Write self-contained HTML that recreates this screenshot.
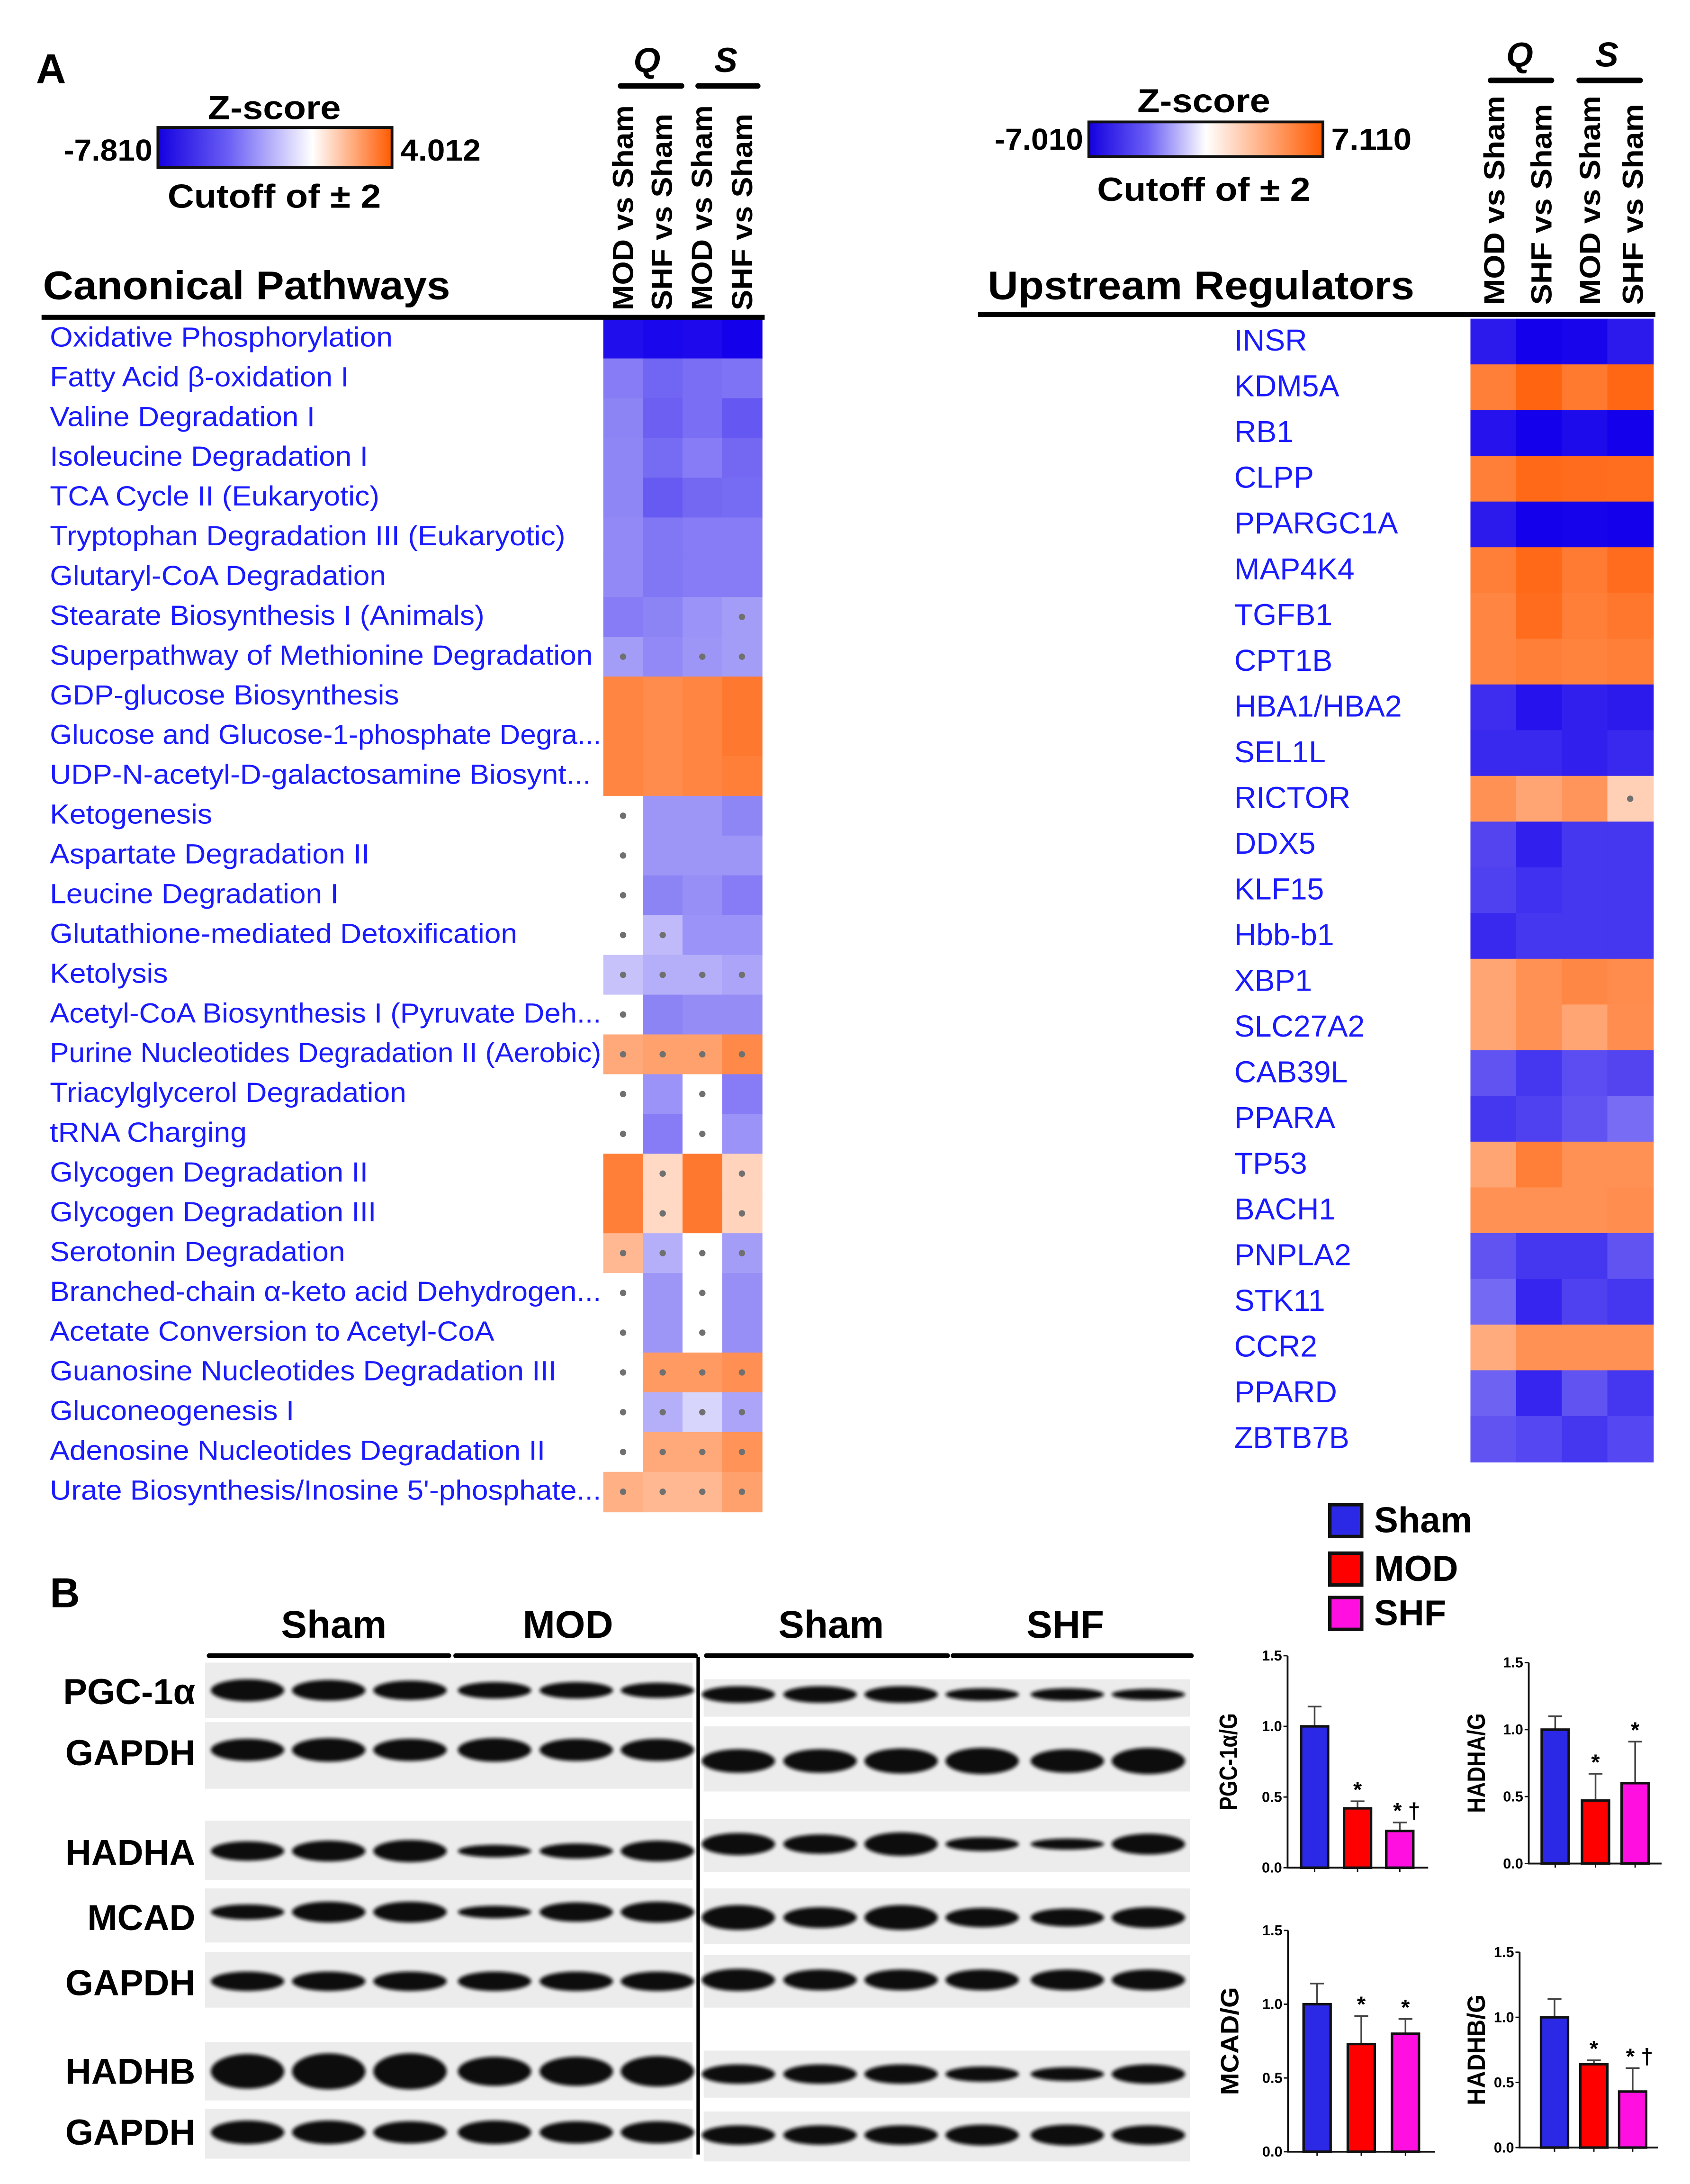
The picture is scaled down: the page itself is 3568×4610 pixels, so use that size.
<!DOCTYPE html>
<html><head><meta charset="utf-8"><style>
html,body{margin:0;padding:0;background:#fff;}
svg{display:block;font-family:"Liberation Sans",Arial,sans-serif;}
</style></head><body>
<svg id="fig" xmlns="http://www.w3.org/2000/svg" width="3568" height="4610" viewBox="0 0 1220 1576.3" preserveAspectRatio="none">
<defs>
<linearGradient id="gL" x1="0" x2="1"><stop offset="0" stop-color="#1400e0"/><stop offset="0.3" stop-color="#6a5ef5"/><stop offset="0.66" stop-color="#ffffff"/><stop offset="1" stop-color="#ff5a00"/></linearGradient>
<linearGradient id="gR" x1="0" x2="1"><stop offset="0" stop-color="#1400e0"/><stop offset="0.25" stop-color="#6a5ef5"/><stop offset="0.5" stop-color="#ffffff"/><stop offset="1" stop-color="#ff5a00"/></linearGradient>
<filter id="blur" x="-20%" y="-50%" width="140%" height="200%"><feGaussianBlur stdDeviation="1.3"/></filter>
</defs>
<g id="root"></g>
</svg>
<script>
const cpLabels=["Oxidative Phosphorylation","Fatty Acid β-oxidation I","Valine Degradation I","Isoleucine Degradation I","TCA Cycle II (Eukaryotic)","Tryptophan Degradation III (Eukaryotic)","Glutaryl-CoA Degradation","Stearate Biosynthesis I (Animals)","Superpathway of Methionine Degradation","GDP-glucose Biosynthesis","Glucose and Glucose-1-phosphate Degra...","UDP-N-acetyl-D-galactosamine Biosynt...","Ketogenesis","Aspartate Degradation II","Leucine Degradation I","Glutathione-mediated Detoxification","Ketolysis","Acetyl-CoA Biosynthesis I (Pyruvate Deh...","Purine Nucleotides Degradation II (Aerobic)","Triacylglycerol Degradation","tRNA Charging","Glycogen Degradation II","Glycogen Degradation III","Serotonin Degradation","Branched-chain α-keto acid Dehydrogen...","Acetate Conversion to Acetyl-CoA","Guanosine Nucleotides Degradation III","Gluconeogenesis I","Adenosine Nucleotides Degradation II","Urate Biosynthesis/Inosine 5'-phosphate..."];
const cpValues=[[-7.2,-7.5,-7.4,-7.8],[-3,-3.8,-3.5,-3.3],[-2.8,-4,-3.5,-4.3],[-2.7,-3.6,-3,-3.7],[-2.7,-4.2,-3.7,-3.6],[-2.6,-3.2,-3,-3],[-2.6,-3.2,-3,-3],[-3,-2.8,-2.3,-2],[-2,-2.6,-2.2,-2],[2.6,2.4,2.6,3],[2.6,2.4,2.6,3],[2.6,2.4,2.6,2.8],[0,-2.2,-2.2,-2.7],[0,-2.2,-2.2,-2.2],[0,-2.8,-2.4,-3],[0,-1.2,-2.3,-2.3],[-1,-1.5,-1.5,-1.8],[0,-2.8,-2.5,-2.5],[1.6,1.8,1.8,2.5],[0,-2.3,0,-3],[0,-3,0,-2.3],[2.8,0.5,3,0.6],[2.8,0.5,3,0.6],[1.2,-1.5,0,-2],[0,-2.2,0,-2.4],[0,-2.2,0,-2.4],[0,2,2,2.3],[0,-1.5,-0.6,-1.8],[0,1.6,1.6,2.2],[1.4,1.2,1.2,1.8]];
const cpDots=[[0,0,0,0],[0,0,0,0],[0,0,0,0],[0,0,0,0],[0,0,0,0],[0,0,0,0],[0,0,0,0],[0,0,0,1],[1,0,1,1],[0,0,0,0],[0,0,0,0],[0,0,0,0],[1,0,0,0],[1,0,0,0],[1,0,0,0],[1,1,0,0],[1,1,1,1],[1,0,0,0],[1,1,1,1],[1,0,1,0],[1,0,1,0],[0,1,0,1],[0,1,0,1],[1,1,1,1],[1,0,1,0],[1,0,1,0],[1,1,1,1],[1,1,1,1],[1,1,1,1],[1,1,1,1]];
const urLabels=["INSR","KDM5A","RB1","CLPP","PPARGC1A","MAP4K4","TGFB1","CPT1B","HBA1/HBA2","SEL1L","RICTOR","DDX5","KLF15","Hbb-b1","XBP1","SLC27A2","CAB39L","PPARA","TP53","BACH1","PNPLA2","STK11","CCR2","PPARD","ZBTB7B"];
const urValues=[[-6,-7,-6.8,-6],[5,6.5,5.3,6.3],[-6.3,-7,-6.6,-7],[5,6.2,6,5.9],[-6,-7,-6.9,-7],[5,6.2,5.2,6],[4.6,6,5,5.4],[4.6,5,4.8,5],[-5.3,-6.3,-5.8,-6],[-5.5,-5.5,-5.8,-5.5],[4,3,3.8,1.2],[-4.5,-5.8,-5,-5],[-4.6,-5.2,-5,-5],[-5.5,-5,-5,-5],[3,4,4.5,4.3],[3,4,3,4.2],[-4,-5,-4.2,-4.5],[-5,-4.6,-4,-3.2],[3,5,4,4],[4,4,4,4.2],[-4,-5,-5,-4],[-3.3,-5.6,-4.6,-5],[2.7,4,4,4],[-3.5,-5.6,-4,-5],[-4,-4.4,-5,-4.4]];
const urDots=[[0,0,0,0],[0,0,0,0],[0,0,0,0],[0,0,0,0],[0,0,0,0],[0,0,0,0],[0,0,0,0],[0,0,0,0],[0,0,0,0],[0,0,0,0],[0,0,0,1]];
const colHeads=["MOD vs Sham","SHF vs Sham","MOD vs Sham","SHF vs Sham"];
const barGroups=["Sham","MOD","SHF"];
const pgcMeans=[1.0,0.42,0.26], pgcErr=[0.14,0.05,0.06], pgcSig=["","*","* †"];
const hadhaMeans=[1.0,0.47,0.6], hadhaErr=[0.1,0.2,0.31], hadhaSig=["","*","*"];
const mcadMeans=[1.0,0.73,0.8], mcadErr=[0.14,0.19,0.1], mcadSig=["","*","*"];
const hadhbMeans=[1.0,0.64,0.43], hadhbErr=[0.14,0.03,0.18], hadhbSig=["","*","* †"];
const yTicks=[0,0.5,1.0,1.5];
const barColors=["#2b28e6","#ff0000","#ff10e0"];

const NS="http://www.w3.org/2000/svg";
const root=document.getElementById('root');
function el(tag,attrs,parent,txt){const e=document.createElementNS(NS,tag);for(const k in attrs)e.setAttribute(k,attrs[k]);if(txt!==undefined)e.textContent=txt;(parent||root).appendChild(e);return e;}
function zcol(z,mn,mx){
  if(z<0){let t=Math.pow(Math.min(1,z/mn),0.7);return `rgb(${Math.round(255-235*t)},${Math.round(255-255*t)},${Math.round(255-20*t)})`;}
  let t=Math.pow(Math.min(1,z/mx),0.7);return `rgb(255,${Math.round(255-165*t)},${Math.round(255-255*t)})`;
}
function txt(x,y,s,size,opts,name){
  const t=el('text',Object.assign({x:x,y:y,'font-size':size},opts||{}),root,s);
  
  
  return t;
}
txt(26,60,"A",30,{'font-weight':'bold'},'panel-a-label');
function colorbar(x0,x1,y0,y1,grad,minT,maxT,cx,zy,cy,name){
  const r=el('rect',{x:x0,y:y0,width:x1-x0,height:y1-y0,fill:`url(#${grad})`,stroke:'#111','stroke-width':2});
  
  
  txt(x0-4,y1-5,minT,22,{'font-weight':'bold','text-anchor':'end',textLength:64,lengthAdjust:'spacingAndGlyphs'},name+'-min');
  txt(x1+6,y1-5,maxT,22,{'font-weight':'bold',textLength:58,lengthAdjust:'spacingAndGlyphs'},name+'-max');
  txt(cx,zy,"Z-score",24,{'font-weight':'bold','text-anchor':'middle',textLength:96,lengthAdjust:'spacingAndGlyphs'},name+'-title');
  txt(cx,cy,"Cutoff of ± 2",24,{'font-weight':'bold','text-anchor':'middle',textLength:154,lengthAdjust:'spacingAndGlyphs'},name+'-cutoff');
}
colorbar(114,283,92,121,'gL',"-7.810","4.012",198,86,150,'cp-colorbar');
colorbar(786,955,88,113,'gR',"-7.010","7.110",869,81,145,'ur-colorbar');

function heatmap(labels,vals,dots,x0,y0,cw,rh,mn,mx,labelX,labelSize,prefix,stretch,labelMax){
  vals.forEach((row,i)=>{
    row.forEach((v,j)=>{
      const r=el('rect',{x:x0+j*cw,y:y0+i*rh,width:cw+0.5,height:rh+0.5,fill:zcol(v,mn,mx)});
      
      
      if(dots[i]&&dots[i][j]){
        const d=el('circle',{cx:x0+j*cw+cw/2,cy:y0+i*rh+rh/2,r:2.3,fill:'#707070'});
        
        
      }
    });
    const t=txt(labelX,y0+i*rh+rh*0.7,labels[i],labelSize,{fill:'#1a1aff'},prefix+'-row-label');
    let w=t.getComputedTextLength()*stretch;
    if(labelMax && w>labelMax) w=labelMax;
    t.setAttribute('textLength',w.toFixed(1));
    t.setAttribute('lengthAdjust','spacingAndGlyphs');
  });
}
heatmap(cpLabels,cpValues,cpDots,435.5,230,28.6,28.7,-7.81,4.012,36,20,'cp',1.065,398);
heatmap(urLabels,urValues,urDots,1061.5,230,32.95,33,-7.01,7.11,891,22,'ur',1.0,0);

txt(31,216,"Canonical Pathways",29,{'font-weight':'bold',textLength:294,lengthAdjust:'spacingAndGlyphs'},'canonical-pathways-title');
txt(713,216,"Upstream Regulators",29,{'font-weight':'bold',textLength:308,lengthAdjust:'spacingAndGlyphs'},'upstream-regulators-title');
let l1=el('line',{x1:30,x2:552,y1:229,y2:229,stroke:'#000','stroke-width':3.5});


let l2=el('line',{x1:706,x2:1195,y1:227,y2:227,stroke:'#000','stroke-width':3.5});



function colHeaders(xs,bottom,len,prefix){
  colHeads.forEach((h,j)=>{
    const t=el('text',{x:0,y:0,'font-size':21,'font-weight':'bold',transform:`translate(${xs[j]},${bottom}) rotate(-90)`,textLength:len[j],lengthAdjust:'spacingAndGlyphs'},root,h);
    
    
  });
}
colHeaders([457,485,514,543],224,[148,142,148,142],'cp');
colHeaders([1086,1120,1155,1186],220,[151,145,151,145],'ur');
function qs(qx,sx,qb0,qb1,sb0,sb1,ty,by,prefix){
  txt(qx,ty,"Q",25,{'font-weight':'bold','font-style':'italic','text-anchor':'middle'},prefix+'-q-label');
  txt(sx,ty,"S",25,{'font-weight':'bold','font-style':'italic','text-anchor':'middle'},prefix+'-s-label');
  let a=el('line',{x1:qb0,x2:qb1,y1:by,y2:by,stroke:'#000','stroke-width':4,'stroke-linecap':'round'});
  
  
  let b=el('line',{x1:sb0,x2:sb1,y1:by,y2:by,stroke:'#000','stroke-width':4,'stroke-linecap':'round'});
  
  
}
qs(467,524,448,492,504,547,52,62,'cp');
qs(1097,1160,1076,1120,1140,1184,48,58,'ur');

txt(36,1160,"B",30,{'font-weight':'bold'},'panel-b-label');
const grpHeads=[["Sham",241],["MOD",410],["Sham",600],["SHF",769]];
grpHeads.forEach(g=>txt(g[1],1182,g[0],28,{'font-weight':'bold','text-anchor':'middle'},'blot-group-header'));
[[151,324],[329,502],[510,684],[688,860]].forEach(s=>{
  const l=el('line',{x1:s[0],x2:s[1],y1:1195,y2:1195,stroke:'#000','stroke-width':3.5,'stroke-linecap':'round'});
  
  
});
const laneL=[178.7,237.3,296,357,416,474.6], laneR=[533,592,650.5,709,770.5,829];
const blotRows=[
 {n:"PGC-1α",ly:1230,L:[1200,1240],R:[1212,1239],hl:[16,15,14,12,12,11],hr:[12,12,12,9,9,8],yl:1220,yr:1223},
 {n:"GAPDH",ly:1274,L:[1243,1291],R:[1246,1293],hl:[16,17,16,17,16,16],hr:[17,17,18,19,17,19],yl:1263,yr:1271},
 {n:"HADHA",ly:1346,L:[1314,1357],R:[1313,1351],hl:[14,15,16,9,11,15],hr:[16,14,17,10,8,15],yl:1336,yr:1331},
 {n:"MCAD",ly:1393,L:[1363,1402],R:[1363,1403],hl:[11,15,15,9,14,15],hr:[18,15,18,14,13,15],yl:1380,yr:1384},
 {n:"GAPDH",ly:1440,L:[1409,1449],R:[1411,1449],hl:[14,14,14,14,14,14],hr:[16,15,15,15,15,15],yl:1430,yr:1429},
 {n:"HADHB",ly:1504,L:[1474,1516],R:[1480,1514],hl:[25,26,26,21,21,22],hr:[14,14,14,11,10,14],yl:1495,yr:1497},
 {n:"GAPDH",ly:1548,L:[1522,1558],R:[1524,1560],hl:[17,17,16,17,16,16],hr:[14,14,14,15,15,14],yl:1539,yr:1541}
];
blotRows.forEach(r=>{
  txt(141,r.ly,r.n,26,{'font-weight':'bold','text-anchor':'end'},'blot-row-label');
  [[148,500,r.L,laneL,r.hl,r.yl],[508,859,r.R,laneR,r.hr,r.yr]].forEach(p=>{
    const bg=el('rect',{x:p[0],y:p[2][0],width:p[1]-p[0],height:p[2][1]-p[2][0],fill:'#ececec'});
    
    
    p[3].forEach((cx,k)=>{
      const b=el('ellipse',{cx:cx,cy:p[5],rx:26.5,ry:p[4][k]/2,fill:'#0c0c0c',filter:'url(#blur)'});
      
      
    });
  });
});
const vl=el('line',{x1:504,x2:504,y1:1196,y2:1555,stroke:'#000','stroke-width':2.5});



[["Sham",1086],["MOD",1121],["SHF",1153]].forEach((g,i)=>{
  const r=el('rect',{x:960,y:g[1],width:23,height:23,fill:barColors[i],stroke:'#111','stroke-width':2.5});
  
  
  txt(992,g[1]+20,g[0],26,{'font-weight':'bold'},'legend-entry-'+g[0].toLowerCase());
});

function barChart(ax,ax1,y0,y15,centers,means,errs,sigs,title,tx,tlen,name){
  const ys=v=>y0+(y15-y0)*v/1.5;
  const g=el('g',{});
  
  
  const bw=19.5;
  means.forEach((m,i)=>{
    const bx=centers[i];
    const e=el('line',{x1:bx,x2:bx,y1:ys(m),y2:ys(m+errs[i]),stroke:'#444','stroke-width':1.2},g);
    
    
    const c=el('line',{x1:bx-5,x2:bx+5,y1:ys(m+errs[i]),y2:ys(m+errs[i]),stroke:'#444','stroke-width':1.2},g);
    
    
    const b=el('rect',{x:bx-bw/2,y:ys(m),width:bw,height:y0-ys(m),fill:barColors[i],stroke:'#111','stroke-width':1.8},g);
    
    
    if(sigs[i]){
      const s=el('text',{x:bx+(sigs[i].length>1?5:0),y:ys(m+errs[i])-3,'font-size':16,'font-weight':'bold','text-anchor':'middle'},g,sigs[i]);
      
      
    }
    const tk=el('line',{x1:bx,x2:bx,y1:y0,y2:y0+3,stroke:'#111','stroke-width':1},g);
    
    
  });
  const a=el('path',{d:`M${ax},${y15} V${y0} H${ax1}`,fill:'none',stroke:'#111','stroke-width':1.3},g);
  
  
  yTicks.forEach(t=>{
    const tk=el('line',{x1:ax-3,x2:ax,y1:ys(t),y2:ys(t),stroke:'#111','stroke-width':1},g);
    
    
    const tl=el('text',{x:ax-4,y:ys(t)+3.5,'font-size':10.5,'font-weight':'bold','text-anchor':'end'},g,t.toFixed(1));
    
    
  });
  const yt=el('text',{x:0,y:0,'font-size':18,'font-weight':'bold','text-anchor':'middle',transform:`translate(${tx},${(y0+y15)/2}) rotate(-90)`,textLength:tlen,lengthAdjust:'spacingAndGlyphs'},g,title);
  
  
}
barChart(929.5,1031,1348,1195,[949,980,1010.5],pgcMeans,pgcErr,pgcSig,"PGC-1α/G",893,70,'pgc-chart');
barChart(1103.6,1199.5,1345,1200,[1122.7,1151.8,1180.4],hadhaMeans,hadhaErr,hadhaSig,"HADHA/G",1072,72,'hadha-chart');
barChart(929.8,1036,1553,1393.3,[950.8,982.7,1014.6],mcadMeans,mcadErr,mcadSig,"MCAD/G",894,78,'mcad-chart');
barChart(1097,1197,1550,1409,[1122.2,1150.6,1178.6],hadhbMeans,hadhbErr,hadhbSig,"HADHB/G",1072,80,'hadhb-chart');
</script>
</body></html>
